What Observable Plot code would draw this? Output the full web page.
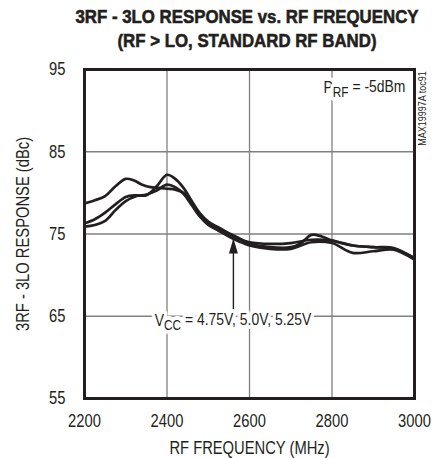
<!DOCTYPE html>
<html>
<head>
<meta charset="utf-8">
<script src="https://cdn.jsdelivr.net/npm/d3@7"></script>
<script src="https://cdn.jsdelivr.net/npm/@observablehq/plot@0.6"></script>
<style>
  html, body { margin: 0; padding: 0; background: #fff; }
  body { width: 438px; height: 458px; overflow: hidden; font-family: "Liberation Sans", Arial, sans-serif; }
  #title { height: 55px; box-sizing: border-box; padding-top: 5px; position: relative;
           font-weight: bold; font-size: 19px; line-height: 24px; color: #231f20; -webkit-text-stroke: 0.6px #231f20; }
  #title .ln { position: relative; height: 24px; }
  #title .ln span { position: absolute; white-space: nowrap; left: 247px; top: 0; transform-origin: 0 0; }
  #chart svg { display: block; }
</style>
</head>
<body>
<div id="title"><div class="ln"><span>3RF - 3LO RESPONSE vs. RF FREQUENCY</span></div><div class="ln"><span>(RF &gt; LO, STANDARD RF BAND)</span></div></div>
<div id="chart"></div>
<script>
// Data
const freqA = [2200,2225,2250,2275,2300,2320,2340,2360,2380,2400,2420,2440,2460,2480,2500,2525,2550,2575,2600,2650,2700,2750,2800,2850,2900,2950,3000];
const respA = [78.7,79.1,79.6,80.8,81.7,81.5,81.0,80.7,80.6,80.5,80.4,80.0,78.8,77.3,76.3,75.7,75.0,74.4,74.0,73.8,73.9,74.3,74.2,73.6,73.4,73.3,72.0];

const freqB = [2200,2225,2250,2275,2300,2325,2350,2375,2400,2420,2440,2460,2480,2500,2525,2550,2575,2600,2650,2700,2725,2750,2775,2800,2850,2900,2950,3000];
const respB = [76.3,76.8,77.6,78.6,79.5,79.7,79.7,80.8,82.2,81.7,80.6,79.0,77.5,76.5,75.8,75.1,74.5,73.8,73.4,73.4,73.9,74.9,74.7,74.2,73.6,73.4,73.2,72.1];

const freqC = [2200,2225,2250,2275,2300,2325,2350,2375,2400,2420,2440,2460,2480,2500,2525,2550,2575,2600,2650,2700,2750,2800,2850,2900,2950,3000];
const respC = [75.9,76.1,76.6,77.9,79.0,79.6,79.8,80.3,81.0,80.7,79.9,78.5,77.1,76.1,75.4,74.7,74.1,73.6,73.2,73.2,74.0,73.9,72.7,72.9,73.1,71.9];

const seriesNames = ["4.75V", "5.0V", "5.25V"];
const xTicks = [2200, 2400, 2600, 2800, 3000];
const yTicks = [55, 65, 75, 85, 95];
const xGrid = [2400, 2600, 2800];
const yGrid = [65, 75, 85];

const vccLabel = {x: 2560, y: 64.5, text: "VCC = 4.75V, 5.0V, 5.25V"};
const arrowPts = {x: 2561, y1: 65.8, y2: 74.45};
const prfLabel = {x: 2978, y: 92.8, text: "PRF = -5dBm"};
const codeLabel = {x: 3019, y: 94.8, text: "MAX19997A toc91"};

const rows = [];
[[freqA, respA], [freqB, respB], [freqC, respC]].forEach(([f, r], i) => {
  f.forEach((fx, j) => rows.push({series: seriesNames[i], f: fx, r: r[j]}));
});

const ink = "#231f20";
const font = '"Liberation Sans", Arial, sans-serif';
const plot = Plot.plot({
  width: 438,
  height: 403,
  marginTop: 14,
  marginBottom: 60,
  marginLeft: 84,
  marginRight: 24,
  style: {fontFamily: font, fontSize: "17px", color: ink, background: "#fff"},
  x: {domain: [2200, 3000]},
  y: {domain: [55, 95]},
  marks: [
    Plot.ruleX(xGrid, {stroke: "#808080", strokeWidth: 1.3}),
    Plot.ruleY(yGrid, {stroke: "#808080", strokeWidth: 1.3}),
    Plot.line(rows, {x: "f", y: "r", z: "series", curve: "catmull-rom", stroke: ink, strokeWidth: 2.7}),
    Plot.link([arrowPts], {x1: "x", x2: "x", y1: "y1", y2: "y2", stroke: ink, strokeWidth: 1.4}),
    Plot.vector([arrowPts], {x: "x", y: "y2", anchor: "end", length: 15, shape: "spike", r: 4.5, fill: ink, stroke: "none"}),
    Plot.text([vccLabel], {x: "x", y: "y", text: "text", fontSize: 17, fill: ink, stroke: "white", strokeWidth: 8, paintOrder: "stroke", className: "sub-cc"}),
    Plot.text([prfLabel], {x: "x", y: "y", text: "text", textAnchor: "end", fontSize: 17, fill: ink, stroke: "white", strokeWidth: 8, paintOrder: "stroke", className: "sub-rf"}),
    Plot.text([codeLabel], {x: "x", y: "y", text: "text", textAnchor: "end", rotate: -90, fontSize: 11, fill: ink, clip: false}),
    Plot.frame({stroke: ink, strokeWidth: 3}),
    Plot.axisX(xTicks, {tickSize: 0, tickPadding: 16, fontSize: 18, tickFormat: d => String(d), label: "RF FREQUENCY (MHz)", labelAnchor: "center", labelArrow: "none", labelOffset: 55}),
    Plot.axisY(yTicks, {tickSize: 0, tickPadding: 19, fontSize: 18, tickFormat: d => String(d), label: "3RF - 3LO RESPONSE (dBc)", labelAnchor: "center", labelArrow: "none", labelOffset: 68})
  ]
});
document.getElementById("chart").appendChild(plot);

// Subscripts: rebuild label texts with tspans
function subscript(cls, main, sub, rest) {
  d3.select(plot).selectAll("g." + cls + " text").each(function() {
    const t = d3.select(this);
    t.text(null);
    t.append("tspan").text(main);
    t.append("tspan").attr("dy", "0.3em").attr("font-size", "0.85em").text(sub);
    t.append("tspan").attr("dy", "-0.3em").text(rest);
  });
}
subscript("sub-cc", "V", "CC", " = 4.75V, 5.0V, 5.25V");
subscript("sub-rf", "P", "RF", " = -5dBm");

// Narrow (condensed) look: squeeze every chart text horizontally about its anchor
d3.select(plot).selectAll("text").each(function() {
  let x = parseFloat(this.getAttribute("x"));
  if (!isFinite(x)) x = 0;
  const tr = this.getAttribute("transform") || "";
  this.setAttribute("transform", `${tr} translate(${x},0) scale(0.82,1) translate(${-x},0)`.trim());
});

// Title: condensed bold, fitted to the reference width and centred
const spans = document.querySelectorAll("#title .ln span");
const w1 = spans[0].getBoundingClientRect().width;
const s = 343 / w1;
spans.forEach(sp => {
  const w = sp.getBoundingClientRect().width;
  sp.style.transform = `translateX(${-w * s / 2}px) scaleX(${s})`;
});
</script>
</body>
</html>
